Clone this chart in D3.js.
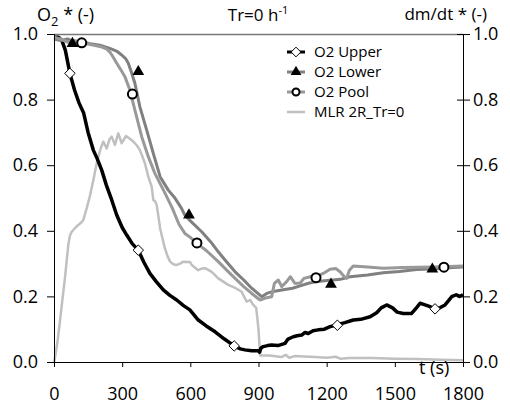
<!DOCTYPE html>
<html>
<head>
<meta charset="utf-8">
<script src="https://cdn.jsdelivr.net/npm/d3@7"></script>
<style>
  body { margin: 0; background: #fff; }
  svg text { font-family: "Open Sans", sans-serif; fill: #000; }
  .axis path, .axis line { stroke: #000; stroke-width: 1; }
  .axis text { font-size: 18px; }
</style>
</head>
<body>
<svg id="chart" width="510" height="406"></svg>
<script>
// O2 concentrations (-) against time (s)
var o2Upper = [[0,0.99],[20,0.99],[35,0.98],[50,0.95],[70,0.88],[90,0.83],[110,0.79],[130,0.76],[150,0.70],[173,0.646],[190,0.62],[210,0.585],[230,0.54],[254,0.494],[276,0.448],[300,0.41],[320,0.387],[345,0.36],[371,0.341],[395,0.305],[422,0.27],[450,0.245],[481,0.22],[510,0.203],[540,0.189],[570,0.172],[598,0.159],[635,0.128],[670,0.11],[709,0.092],[750,0.07],[793,0.049],[820,0.04],[840,0.037],[870,0.034],[899,0.034],[905,0.03],[910,0.042],[921,0.047],[940,0.05],[958,0.052],[985,0.05],[1017,0.057],[1030,0.07],[1053,0.077],[1070,0.08],[1090,0.082],[1105,0.09],[1119,0.087],[1140,0.095],[1163,0.098],[1190,0.1],[1215,0.108],[1244,0.113],[1280,0.12],[1317,0.128],[1350,0.13],[1391,0.138],[1420,0.15],[1440,0.165],[1464,0.174],[1490,0.165],[1510,0.152],[1537,0.148],[1574,0.148],[1595,0.165],[1611,0.179],[1630,0.175],[1655,0.169],[1677,0.161],[1700,0.166],[1721,0.174],[1740,0.19],[1750,0.199],[1770,0.205],[1785,0.2],[1800,0.205]];

var o2Lower = [[0,0.985],[30,0.98],[60,0.985],[90,0.975],[129,0.976],[160,0.97],[202,0.966],[246,0.956],[275,0.948],[298,0.936],[315,0.925],[327,0.911],[340,0.885],[356,0.85],[378,0.778],[408,0.707],[437,0.636],[467,0.565],[503,0.524],[533,0.499],[560,0.47],[576,0.448],[600,0.43],[650,0.397],[690,0.366],[723,0.336],[760,0.305],[797,0.275],[835,0.25],[870,0.225],[914,0.199],[936,0.209],[958,0.214],[1009,0.22],[1050,0.225],[1083,0.232],[1120,0.24],[1156,0.245],[1190,0.248],[1229,0.25],[1260,0.252],[1303,0.26],[1380,0.265],[1449,0.272],[1520,0.276],[1596,0.282],[1680,0.284],[1757,0.288],[1800,0.29]];

var o2Pool = [[0,0.99],[30,0.985],[60,0.975],[90,0.98],[129,0.972],[160,0.968],[202,0.962],[230,0.955],[246,0.945],[260,0.93],[276,0.911],[295,0.89],[312,0.87],[334,0.829],[356,0.768],[386,0.687],[415,0.626],[444,0.575],[489,0.514],[520,0.47],[550,0.42],[576,0.392],[600,0.38],[628,0.362],[670,0.34],[723,0.306],[760,0.28],[797,0.255],[835,0.23],[870,0.209],[907,0.189],[930,0.195],[958,0.199],[970,0.24],[987,0.25],[1002,0.23],[1024,0.245],[1040,0.26],[1060,0.24],[1083,0.24],[1100,0.255],[1127,0.26],[1156,0.262],[1185,0.27],[1215,0.283],[1240,0.285],[1259,0.275],[1275,0.262],[1288,0.255],[1300,0.28],[1317,0.293],[1380,0.29],[1449,0.286],[1537,0.288],[1600,0.289],[1669,0.29],[1740,0.291],[1800,0.293]];

// mass loss rate, secondary axis (-)
var mlr = [[0,0],[4,0.012],[15,0.06],[26,0.123],[37,0.19],[48,0.255],[56,0.31],[63,0.357],[70,0.385],[78,0.397],[95,0.41],[107,0.418],[120,0.425],[129,0.433],[144,0.469],[158,0.506],[175,0.56],[188,0.606],[205,0.65],[217,0.672],[232,0.651],[245,0.68],[254,0.687],[268,0.662],[283,0.697],[298,0.667],[317,0.689],[335,0.68],[349,0.672],[365,0.66],[378,0.646],[390,0.625],[400,0.606],[415,0.565],[430,0.534],[437,0.494],[445,0.49],[452,0.479],[467,0.408],[478,0.375],[488,0.347],[500,0.322],[511,0.306],[525,0.298],[540,0.296],[555,0.3],[569,0.306],[598,0.305],[606,0.296],[635,0.28],[650,0.285],[665,0.286],[694,0.275],[723,0.255],[767,0.235],[800,0.225],[826,0.214],[833,0.204],[848,0.184],[863,0.189],[877,0.174],[890,0.165],[900,0.1],[907,0.02],[950,0.02],[1000,0.015],[1020,0.022],[1035,0.013],[1060,0.018],[1100,0.017],[1150,0.015],[1200,0.013],[1240,0.016],[1260,0.01],[1300,0.012],[1400,0.012],[1500,0.01],[1600,0.009],[1700,0.007],[1800,0.005]];

// marker positions
var upperMarks = [[70,0.88],[371,0.341],[793,0.049],[1247,0.112],[1677,0.162]];
var lowerMarks = [[81,0.971],[371,0.885],[594,0.448],[1219,0.237],[1665,0.283]];
var poolMarks = [[122,0.973],[345,0.817],[629,0.363],[1153,0.257],[1716,0.289]];

var xTicks = [0, 300, 600, 900, 1200, 1500, 1800];
var yTicks = [0, 0.2, 0.4, 0.6, 0.8, 1.0];
var legendNames = ["O2 Upper", "O2 Lower", "O2 Pool", "MLR 2R_Tr=0"];

var svg = d3.select("#chart");

var x = d3.scaleLinear().domain([0, 1800]).range([54, 463]);
var y = d3.scaleLinear().domain([0, 1]).range([362, 34]);
var y2 = d3.scaleLinear().domain([0, 1]).range([362, 34]);

var fmt = d3.format(".1f");

// top frame line
svg.append("line")
  .attr("x1", 54).attr("x2", 463).attr("y1", 34.5).attr("y2", 34.5)
  .attr("stroke", "#777").attr("stroke-width", 1.5);

var line = d3.line()
  .x(function(d) { return x(d[0]); })
  .y(function(d) { return y(d[1]); });
var line2 = d3.line()
  .x(function(d) { return x(d[0]); })
  .y(function(d) { return y2(d[1]); });

svg.append("path").datum(mlr)
  .attr("d", line2).attr("fill", "none")
  .attr("stroke", "#c0c0c0").attr("stroke-width", 2.5).attr("stroke-linejoin", "round");
svg.append("path").datum(o2Upper)
  .attr("d", line).attr("fill", "none")
  .attr("stroke", "#000").attr("stroke-width", 3.5).attr("stroke-linejoin", "round");
svg.append("path").datum(o2Lower)
  .attr("d", line).attr("fill", "none")
  .attr("stroke", "#808080").attr("stroke-width", 3).attr("stroke-linejoin", "round");
svg.append("path").datum(o2Pool)
  .attr("d", line).attr("fill", "none")
  .attr("stroke", "#999").attr("stroke-width", 3).attr("stroke-linejoin", "round");

// axes
svg.append("g").attr("class", "axis")
  .attr("transform", "translate(0,362)")
  .call(d3.axisBottom(x).tickValues(xTicks).tickSize(5).tickPadding(20).tickFormat(d3.format("d")));

svg.append("g").attr("class", "axis")
  .attr("transform", "translate(54,0)")
  .call(d3.axisLeft(y).tickValues(yTicks).tickSize(7).tickPadding(9).tickFormat(fmt));

var rightAxis = svg.append("g").attr("class", "axis")
  .attr("transform", "translate(463,0)")
  .call(d3.axisRight(y2).tickValues(yTicks).tickSize(7).tickPadding(3).tickFormat(fmt));
rightAxis.selectAll(".tick").append("line")
  .attr("x1", -6).attr("x2", 0).attr("stroke", "#000");

// markers
var diamond = d3.symbol().type(d3.symbolDiamond2).size(70);
var tri = d3.symbol().type(d3.symbolTriangle).size(60);

svg.selectAll(".mk-upper").data(upperMarks).enter().append("path")
  .attr("class", "mk-upper")
  .attr("transform", function(d) { return "translate(" + x(d[0]) + "," + y(d[1]) + ")"; })
  .attr("d", diamond).attr("fill", "#fff").attr("stroke", "#000").attr("stroke-width", 1);

svg.selectAll(".mk-lower").data(lowerMarks).enter().append("path")
  .attr("class", "mk-lower")
  .attr("transform", function(d) { return "translate(" + x(d[0]) + "," + y(d[1]) + ")"; })
  .attr("d", tri).attr("fill", "#000");

svg.selectAll(".mk-pool").data(poolMarks).enter().append("circle")
  .attr("class", "mk-pool")
  .attr("cx", function(d) { return x(d[0]); })
  .attr("cy", function(d) { return y(d[1]); })
  .attr("r", 4.5).attr("fill", "#fff").attr("stroke", "#000").attr("stroke-width", 2);

// titles
var t1 = svg.append("text").attr("x", 37).attr("y", 21).style("font-size", "18px");
t1.append("tspan").text("O");
t1.append("tspan").attr("dy", 5).style("font-size", "13px").text("2");
t1.append("tspan").attr("dy", -5).text(" * (-)");

var t2 = svg.append("text").attr("x", 258).attr("y", 21).attr("text-anchor", "middle").style("font-size", "17px");
t2.append("tspan").text("Tr=0 h");
t2.append("tspan").attr("dy", -7).style("font-size", "11px").text("-1");

svg.append("text").attr("x", 487).attr("y", 20).attr("text-anchor", "end")
  .style("font-size", "17px").text("dm/dt * (-)");

svg.append("text").attr("x", 419).attr("y", 374)
  .style("font-size", "18px").text("t (s)");

// legend
var legend = svg.append("g").attr("class", "legend");
var styles = [
  {color: "#000", width: 3},
  {color: "#808080", width: 3},
  {color: "#999", width: 3},
  {color: "#c0c0c0", width: 2.5}
];
legendNames.forEach(function(name, i) {
  var ly = 52 + i * 20;
  legend.append("line")
    .attr("x1", 287).attr("x2", 305).attr("y1", ly).attr("y2", ly)
    .attr("stroke", styles[i].color).attr("stroke-width", styles[i].width);
  if (i == 0) {
    legend.append("path").attr("transform", "translate(296," + ly + ")")
      .attr("d", d3.symbol().type(d3.symbolDiamond2).size(60))
      .attr("fill", "#fff").attr("stroke", "#000");
  } else if (i == 1) {
    legend.append("path").attr("transform", "translate(296," + ly + ")")
      .attr("d", d3.symbol().type(d3.symbolTriangle).size(50)).attr("fill", "#000");
  } else if (i == 2) {
    legend.append("circle").attr("cx", 296).attr("cy", ly).attr("r", 3.5)
      .attr("fill", "#fff").attr("stroke", "#000").attr("stroke-width", 2);
  }
  legend.append("text").attr("x", 314).attr("y", ly).attr("dy", "0.35em")
    .style("font-size", "15px").text(name);
});
</script>
</body>
</html>
